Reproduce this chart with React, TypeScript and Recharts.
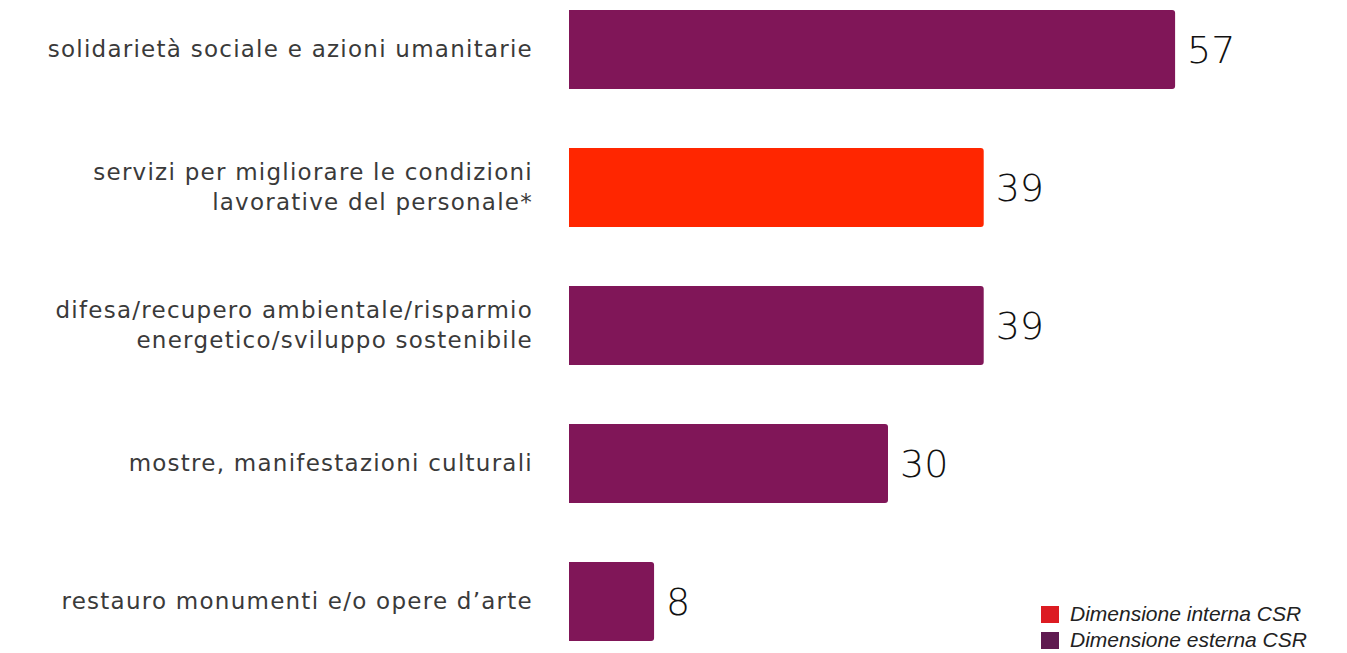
import { Bar, BarChart, Cell, LabelList, Legend, XAxis, YAxis } from "recharts";

const categories = [
  ["solidarietà sociale e azioni umanitarie"],
  ["servizi per migliorare le condizioni", "lavorative del personale*"],
  ["difesa/recupero ambientale/risparmio", "energetico/sviluppo sostenibile"],
  ["mostre, manifestazioni culturali"],
  ["restauro monumenti e/o opere d’arte"],
];
const values = [57, 39, 39, 30, 8];
const dimension = ["esterna", "interna", "esterna", "esterna", "esterna"];

const BAR_COLORS: Record<string, string> = { interna: "#FF2600", esterna: "#801658" };
const LEGEND_ITEMS = [
  { label: "Dimensione interna CSR", color: "#DC1B22" },
  { label: "Dimensione esterna CSR", color: "#5F1A50" },
];

const data = values.map((v, i) => ({ name: String(i), value: v, dim: dimension[i] }));

function CategoryTick({ x, y, payload }: any) {
  const lines: string[] = categories[Number(payload.value)];
  const lh = 30;
  const start = -((lines.length - 1) * lh) / 2;
  return (
    <text x={x - 28} y={y} textAnchor="end" fill="#3a3a3a" fontSize={23} letterSpacing={1.25} fontFamily="DejaVu Sans">
      {lines.map((l, i) => (
        <tspan key={i} x={x - 28} y={y + start + i * lh} dy="0.36em">{l}</tspan>
      ))}
    </text>
  );
}

function LegendBox() {
  return (
    <div style={{ fontFamily: "Liberation Sans", fontStyle: "italic", fontSize: 21, color: "#222" }}>
      {LEGEND_ITEMS.map((it) => (
        <div key={it.label} style={{ display: "flex", alignItems: "center", height: 26 }}>
          <span style={{ display: "inline-block", width: 18, height: 17, background: it.color, marginRight: 11 }} />
          {it.label}
        </div>
      ))}
    </div>
  );
}

export default function App() {
  return (
    <div style={{ position: "absolute", left: 0, top: -20, width: 1347, height: 690, background: "#fff" }}>
      <BarChart
        width={1347}
        height={690}
        data={data}
        layout="vertical"
        margin={{ top: 0, right: 140, bottom: 0, left: 0 }}
      >
        <XAxis type="number" domain={[0, 60]} hide />
        <YAxis
          type="category"
          dataKey="name"
          width={569}
          axisLine={false}
          tickLine={false}
          tick={<CategoryTick />}
          interval={0}
        />
        <Legend
          layout="vertical"
          verticalAlign="middle"
          align="center"
          content={<LegendBox />}
          wrapperStyle={{ position: "absolute", left: 1041, top: 621, width: 300 }}
        />
        <Bar dataKey="value" barSize={79} radius={[0, 3, 3, 0]} isAnimationActive={false}>
          {data.map((d, i) => (
            <Cell key={i} fill={BAR_COLORS[d.dim]} />
          ))}
          <LabelList
            dataKey="value"
            position="right"
            offset={12}
            fill="#111"
            fontSize={38}
            fontFamily="DejaVu Sans"
            fontWeight={200}
          />
        </Bar>
      </BarChart>
    </div>
  );
}
